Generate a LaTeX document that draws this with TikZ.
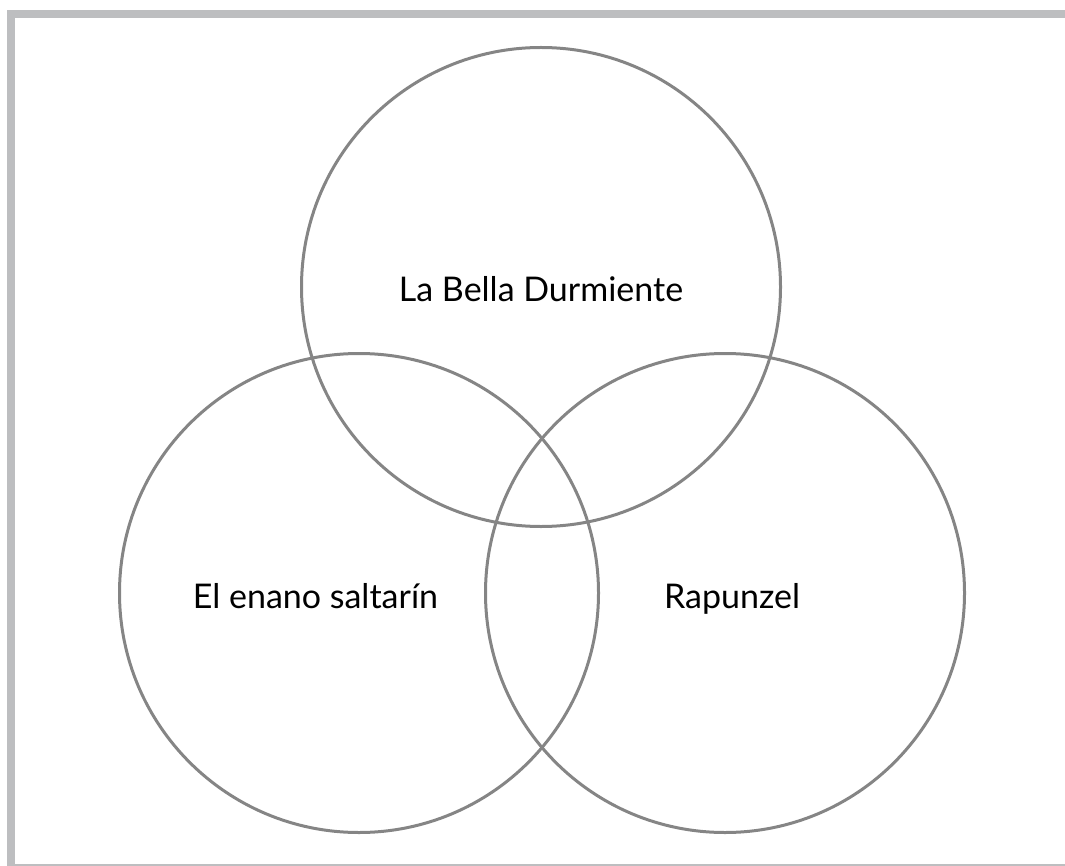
\documentclass[tikz,border=0pt]{standalone}
\usepackage{fontspec}
\setmainfont{Lato}
\definecolor{framegray}{HTML}{BDBEC0}
\definecolor{ringgray}{HTML}{858585}
\begin{document}
\begin{tikzpicture}[x=0.5pt,y=-0.5pt,
	ring/.style={draw=ringgray, line width=1.5pt},
	label/.style={font=\fontsize{17}{21}\selectfont, text=black, anchor=base}]
		\def\r{239.5};
		\useasboundingbox (0,0) rectangle (1065,866);
		% frame
		\fill[framegray] (7,10) rectangle (1065,18);
		\fill[framegray] (7,10) rectangle (15,866);
		\fill[framegray] (7,864) rectangle (1065,866);
		% circles
		\coordinate (T) at (541,287);
		\coordinate (L) at (359,593);
		\coordinate (R) at (725,593);
		\draw[ring] (T) circle (\r);
		\draw[ring] (L) circle (\r);
		\draw[ring] (R) circle (\r);
		\node[label] (bella) at (541,301) {La Bella Durmiente};
		\node[label] (enano) at (315.5,608) {El enano saltarín};
		\node[label] (rapunzel) at (732,608) {Rapunzel};
		\end{tikzpicture}
\end{document}
